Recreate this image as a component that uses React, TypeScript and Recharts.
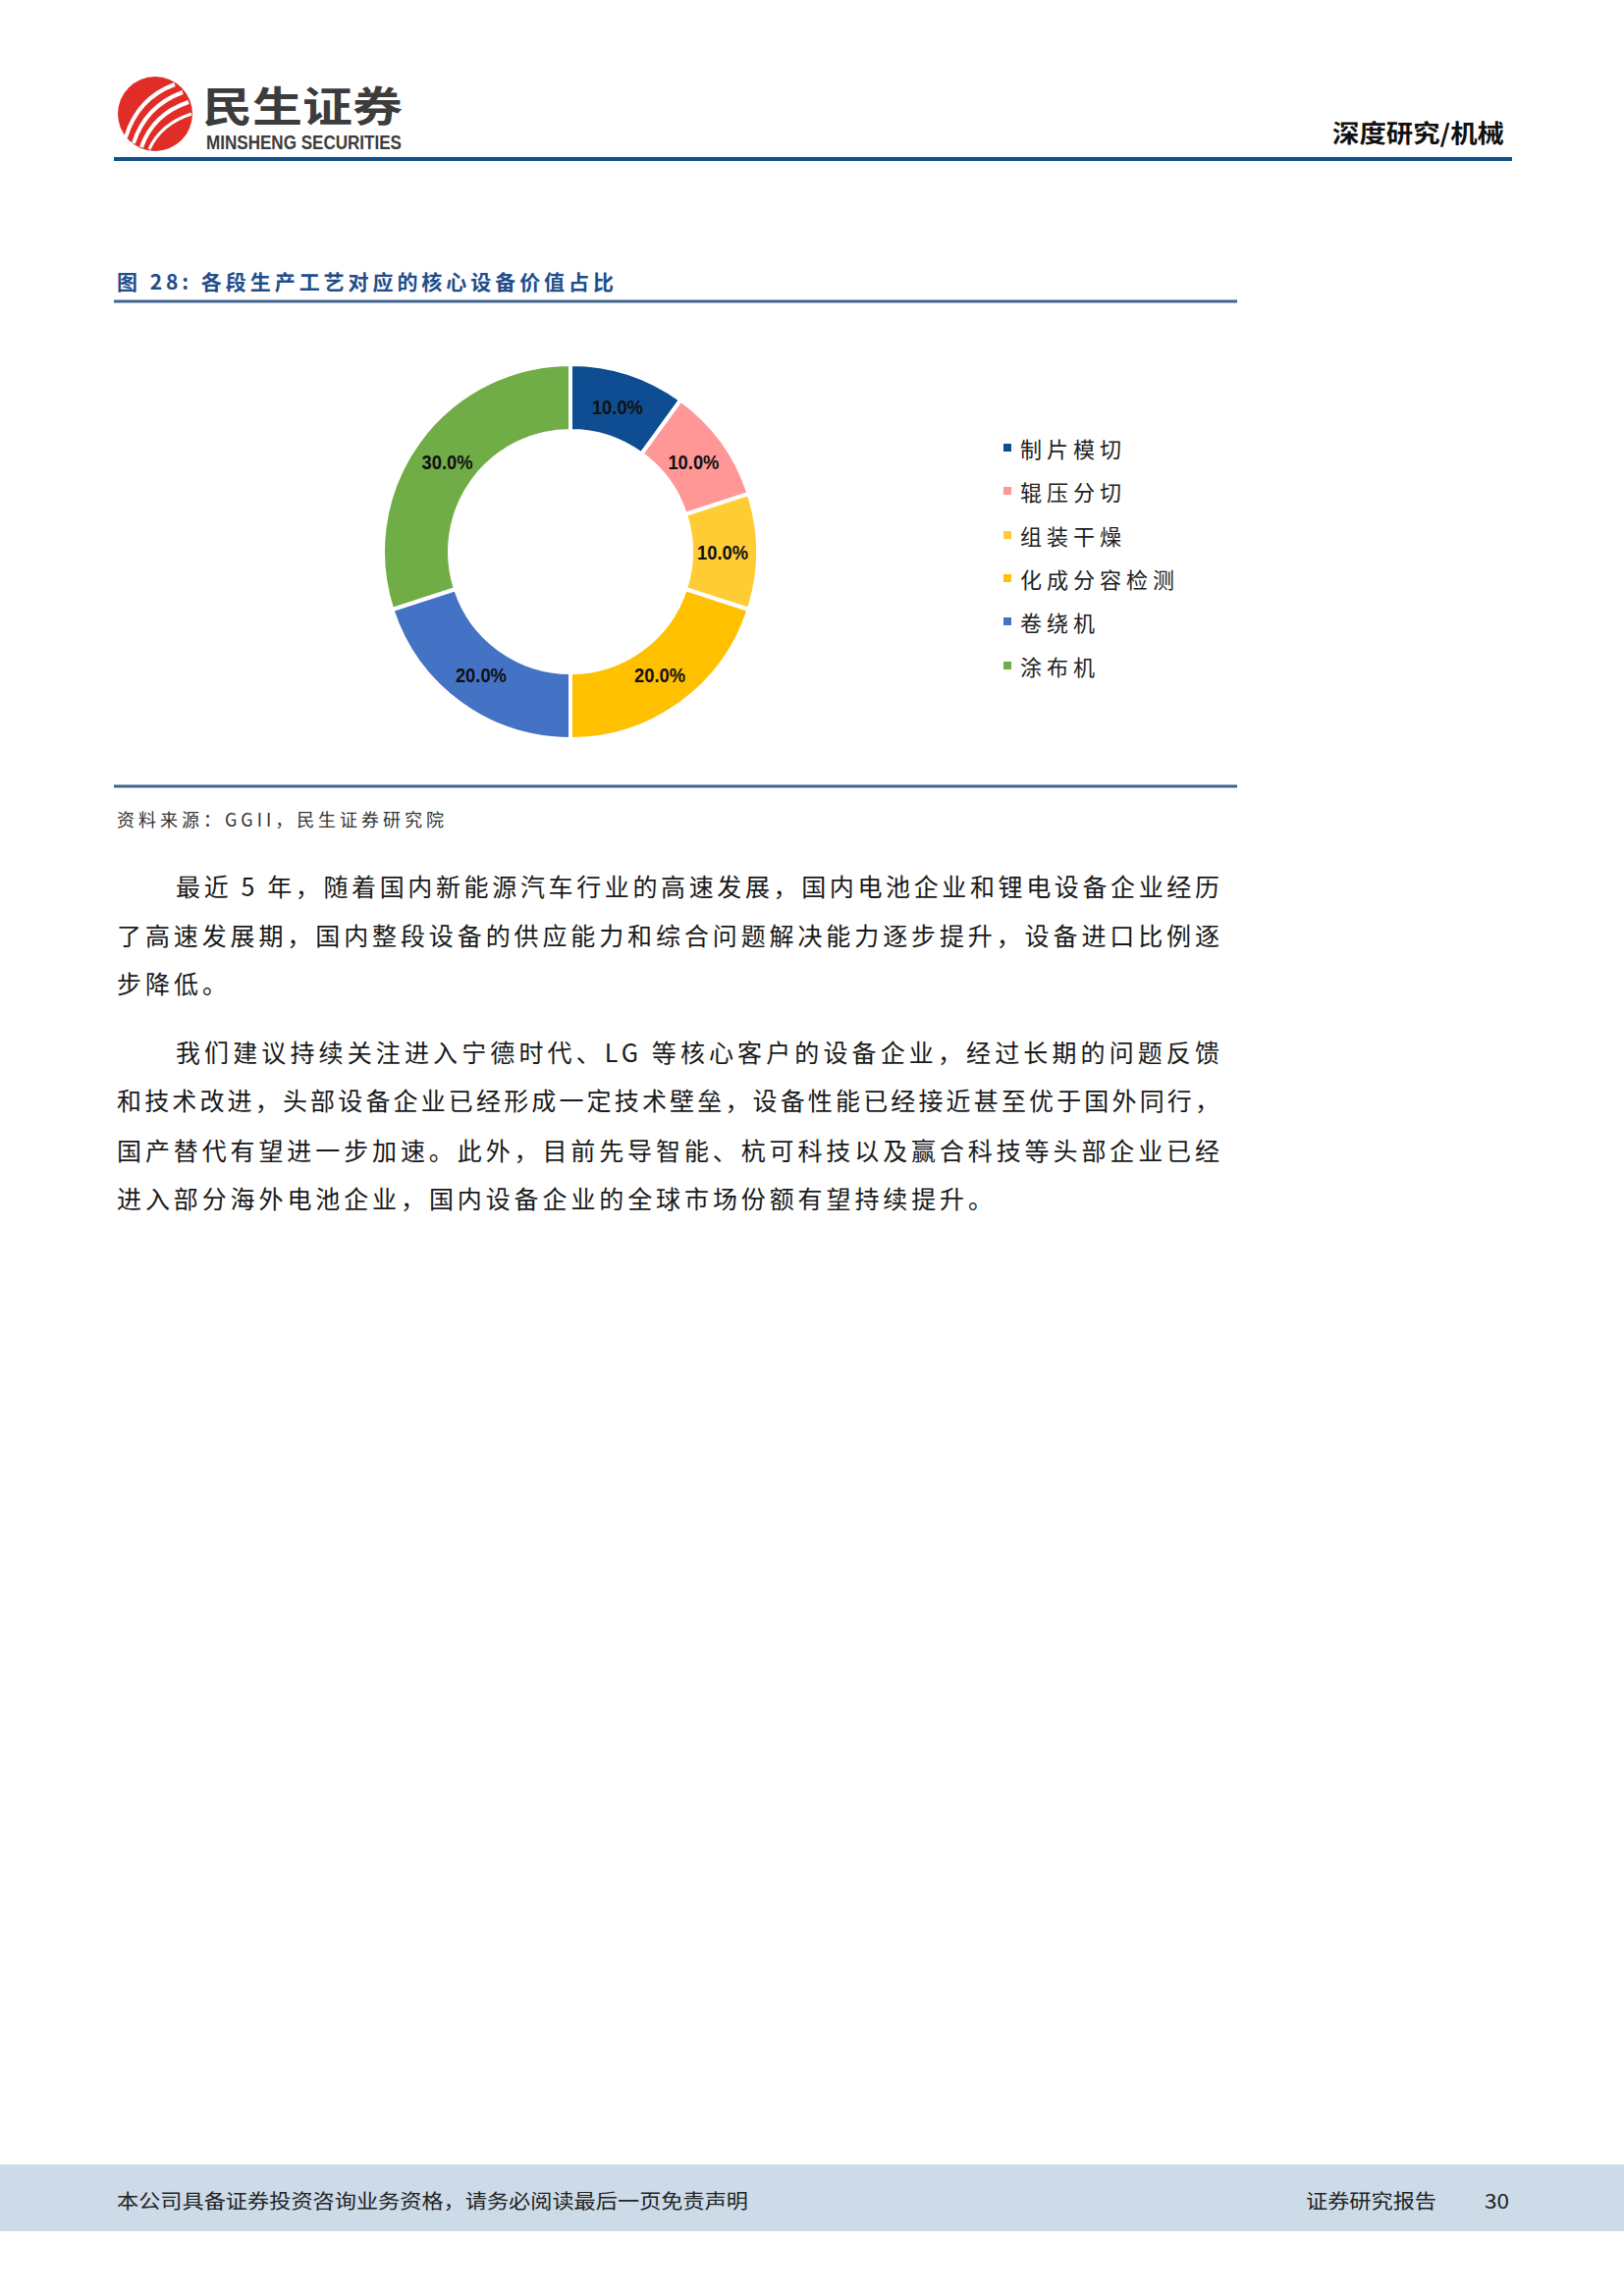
import { PieChart, Pie, Cell, Legend } from 'recharts';

const categories = ['制片模切', '辊压分切', '组装干燥', '化成分容检测', '卷绕机', '涂布机'];
const shares = [10, 10, 10, 20, 20, 30];
const sliceColors = ['#0E4D92', '#FF9797', '#FFCC33', '#FFC000', '#4472C4', '#70AD47'];

const paragraphLines = [
  { text: '最近 5 年，随着国内新能源汽车行业的高速发展，国内电池企业和锂电设备企业经历', x: 179, y: 902, w: 1063 },
  { text: '了高速发展期，国内整段设备的供应能力和综合问题解决能力逐步提升，设备进口比例逐', x: 119, y: 952, w: 1123 },
  { text: '步降低。', x: 119, y: 1001, w: 112 },
  { text: '我们建议持续关注进入宁德时代、LG 等核心客户的设备企业，经过长期的问题反馈', x: 179, y: 1071, w: 1063 },
  { text: '和技术改进，头部设备企业已经形成一定技术壁垒，设备性能已经接近甚至优于国外同行，', x: 119, y: 1120, w: 1123 },
  { text: '国产替代有望进一步加速。此外，目前先导智能、杭可科技以及赢合科技等头部企业已经', x: 119, y: 1171, w: 1123 },
  { text: '进入部分海外电池企业，国内设备企业的全球市场份额有望持续提升。', x: 119, y: 1220, w: 892 },
];

const CJK = '"Noto Sans CJK SC", "Noto Sans", sans-serif';

const pieData = categories.map((name, i) => ({ name, value: shares[i] }));

const RAD = Math.PI / 180;

const renderLabel = (props: any) => {
  const { cx, cy, midAngle, innerRadius, outerRadius, percent } = props;
  const r = (innerRadius + outerRadius) / 2 - 2;
  const x = cx + r * Math.cos(-midAngle * RAD);
  const y = cy + r * Math.sin(-midAngle * RAD);
  return (
    <text
      x={x}
      y={y}
      textAnchor="middle"
      dominantBaseline="central"
      fill="#111"
      fontFamily="'Liberation Sans', Arial, sans-serif"
      fontWeight="bold"
      fontSize={21}
      textLength={52}
      lengthAdjust="spacingAndGlyphs"
    >
      {(percent * 100).toFixed(1) + '%'}
    </text>
  );
};

// keep legend in the same order as the slices
const renderLegend = (props: any) => {
  const payload = [...(props.payload || [])].sort(
    (a: any, b: any) => categories.indexOf(a.value) - categories.indexOf(b.value)
  );
  return (
    <div>
      {payload.map((entry: any) => {
        const idx = categories.indexOf(entry.value);
        return (
          <div key={entry.value} style={{ display: 'flex', alignItems: 'center', height: 44.3 }}>
            <span style={{ width: 8, height: 8, background: sliceColors[idx] || entry.color, marginRight: 9 }} />
            <span style={{ fontFamily: CJK, fontSize: 22, letterSpacing: 5, color: '#222' }}>{entry.value}</span>
          </div>
        );
      })}
    </div>
  );
};

export default function App() {
  return (
    <div style={{ position: 'absolute', left: 0, top: 0, width: 1654, height: 2339, background: '#fff' }}>
      <svg width={1654} height={2339} style={{ position: 'absolute', left: 0, top: 0 }}>
        {/* header logo */}
        <circle cx={158} cy={116} r={38} fill="#E02D28" />
        <path d="M128 140 Q140 100 178 86" stroke="#fff" strokeWidth={4} fill="none" />
        <path d="M136 146 Q148 108 186 94" stroke="#fff" strokeWidth={4} fill="none" />
        <path d="M144 150 Q156 116 192 104" stroke="#fff" strokeWidth={4} fill="none" />
        <path d="M152 152 Q164 126 195 116" stroke="#fff" strokeWidth={3} fill="none" />
        <text x={206} y={105} dominantBaseline="central" fontFamily={CJK} fontWeight="bold" fontSize={42}
          fill="#3C3C3C" textLength={204} lengthAdjust="spacingAndGlyphs">民生证券</text>
        <text x={210} y={145} dominantBaseline="central" fontFamily="'Liberation Sans', Arial, sans-serif" fontWeight="bold"
          fontSize={20} fill="#3C3C3C" textLength={199} lengthAdjust="spacingAndGlyphs">MINSHENG SECURITIES</text>
        <text x={1357} y={134} dominantBaseline="central" fontFamily={CJK} fontWeight="bold" fontSize={25}
          fill="#111" textLength={175} lengthAdjust="spacingAndGlyphs">深度研究/机械</text>
        <rect x={116} y={160} width={1424} height={4} fill="#0F5490" />

        {/* figure title */}
        <text x={119} y={286} dominantBaseline="central" fontFamily={CJK} fontWeight="bold" fontSize={21}
          fill="#1F4E8C" textLength={506} lengthAdjust="spacing">图 28: 各段生产工艺对应的核心设备价值占比</text>
        <rect x={116} y={305.5} width={1144} height={3} fill="#41648F" />
        <rect x={116} y={799.5} width={1144} height={3} fill="#41648F" />
        <text x={119} y={834} dominantBaseline="central" fontFamily={CJK} fontSize={18}
          fill="#333" textLength={333} lengthAdjust="spacing">资料来源：GGII，民生证券研究院</text>

        {/* body text */}
        {paragraphLines.map((l, i) => (
          <text key={i} x={l.x} y={l.y} dominantBaseline="central" fontFamily={CJK} fontSize={25}
            fill="#1a1a1a" textLength={l.w} lengthAdjust="spacing">{l.text}</text>
        ))}

        {/* footer */}
        <rect x={0} y={2205} width={1654} height={68} fill="#CDDBE9" />
        <text x={119} y={2241} dominantBaseline="central" fontFamily={CJK} fontSize={20}
          fill="#222" textLength={643} lengthAdjust="spacingAndGlyphs">本公司具备证券投资咨询业务资格，请务必阅读最后一页免责声明</text>
        <text x={1330} y={2241} dominantBaseline="central" fontFamily={CJK} fontSize={20}
          fill="#222" textLength={133} lengthAdjust="spacingAndGlyphs">证券研究报告</text>
        <text x={1512} y={2241} dominantBaseline="central" fontFamily={CJK} fontSize={20}
          fill="#222" textLength={25} lengthAdjust="spacingAndGlyphs">30</text>
      </svg>

      <div style={{ position: 'absolute', left: 360, top: 323 }}>
        <PieChart width={900} height={470} margin={{ top: 0, right: 0, bottom: 0, left: 0 }}>
          <Pie
            data={pieData}
            dataKey="value"
            nameKey="name"
            cx={221}
            cy={239}
            innerRadius={123}
            outerRadius={191}
            startAngle={90}
            endAngle={-270}
            stroke="#fff"
            strokeWidth={4}
            label={renderLabel}
            labelLine={false}
            isAnimationActive={false}
          >
            {pieData.map((entry, i) => (
              <Cell key={entry.name} fill={sliceColors[i]} />
            ))}
          </Pie>
          <Legend
            layout="vertical"
            content={renderLegend}
            wrapperStyle={{ left: 662, top: 111, width: 240 }}
          />
        </PieChart>
      </div>
    </div>
  );
}
